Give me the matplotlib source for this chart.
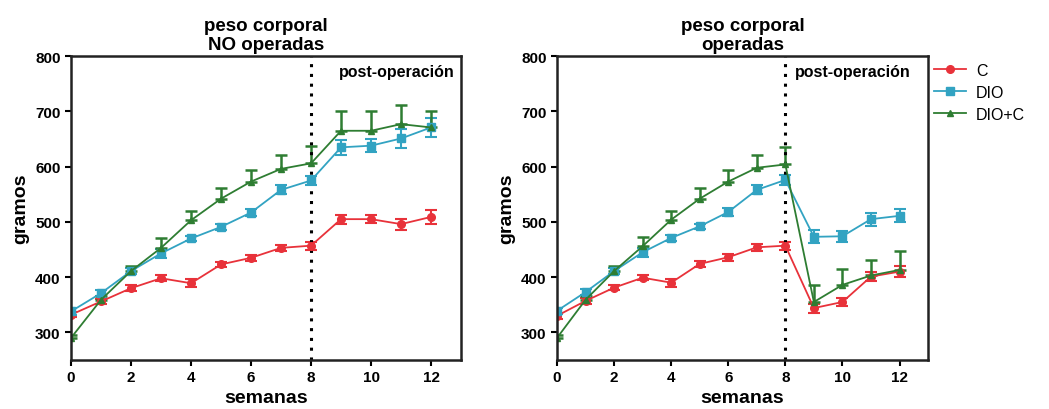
import matplotlib.pyplot as plt
from matplotlib.lines import Line2D

plt.rcParams['font.family'] = ['Liberation Sans', 'DejaVu Sans']

semanas = list(range(13))

# NO operadas
no_c = [332, 356, 380, 398, 389, 423, 435, 453, 457, 505, 505, 496, 509]
no_c_err = [5, 5, 5, 5, 7, 5, 6, 6, 7, 8, 7, 10, 12]
no_dio = [338, 371, 411, 443, 470, 491, 517, 558, 575, 635, 638, 651, 671]
no_dio_err = [6, 5, 5, 8, 5, 5, 7, 8, 9, 14, 12, 17, 18]
no_dioc = [290, 359, 411, 453, 503, 542, 573, 596, 606, 665, 665, 677, 671]
no_dioc_up = [5, 6, 10, 18, 17, 19, 21, 26, 31, 35, 36, 35, 30]

# operadas
op_c = [330, 357, 381, 399, 390, 424, 436, 454, 457, 344, 355, 401, 410]
op_c_err = [5, 5, 5, 5, 7, 5, 6, 6, 7, 8, 7, 8, 10]
op_dio = [339, 373, 411, 445, 471, 492, 518, 558, 576, 473, 474, 505, 511]
op_dio_err = [6, 5, 5, 8, 5, 5, 7, 8, 9, 12, 10, 12, 12]
op_dioc = [290, 359, 411, 456, 504, 542, 573, 598, 604, 355, 386, 403, 413]
op_dioc_up = [5, 6, 10, 16, 16, 19, 21, 24, 32, 30, 28, 28, 34]

col_c = '#e8323a'
col_dio = '#32a3c2'
col_dioc = '#2e7d32'

fig = plt.figure(figsize=(10.49, 4.10), dpi=100)
ax1 = fig.add_axes([0.0677, 0.1195, 0.3718, 0.741])
ax2 = fig.add_axes([0.531, 0.1195, 0.3537, 0.741])


def draw(ax, c, c_err, dio, dio_err, dioc, dioc_up, title, txt_x):
    ax.errorbar(semanas, c, yerr=c_err, color=col_c, marker='o', ms=5.5,
                lw=1.3, capsize=4, elinewidth=1.5, capthick=1.5)
    ax.errorbar(semanas, dio, yerr=dio_err, color=col_dio, marker='s', ms=5.5,
                lw=1.3, capsize=4, elinewidth=1.5, capthick=1.5)
    ax.errorbar(semanas, dioc, yerr=[[0] * len(dioc_up), dioc_up],
                color=col_dioc, marker='^', ms=5, lw=1.3, capsize=4,
                elinewidth=1.8, capthick=1.8)
    ax.axvline(8, color='black', ls=(0, (1, 2.2)), lw=2.2)
    ax.set_xlim(0, 13)
    ax.set_ylim(250, 800)
    ax.set_xticks([0, 2, 4, 6, 8, 10, 12])
    ax.set_yticks([300, 400, 500, 600, 700, 800])
    ax.tick_params(width=1.5, length=4, labelsize=11)
    for lab in ax.get_xticklabels() + ax.get_yticklabels():
        lab.set_fontweight('bold')
    for s in ax.spines.values():
        s.set_linewidth(1.8)
        s.set_color('#222222')
    ax.set_xlabel('semanas', fontsize=14, fontweight='bold', labelpad=3)
    ax.set_ylabel('gramos', fontsize=14, fontweight='bold')
    ax.set_title(title, fontsize=13.5, fontweight='bold', linespacing=1.2,
                 pad=5)
    ax.text(txt_x, 773, 'post-operación', ha='right', va='center',
            fontsize=11.5, fontweight='bold')


draw(ax1, no_c, no_c_err, no_dio, no_dio_err, no_dioc, no_dioc_up,
     'peso corporal\nNO operadas', 12.8)
draw(ax2, op_c, op_c_err, op_dio, op_dio_err, op_dioc, op_dioc_up,
     'peso corporal\noperadas', 12.4)

handles = [
    Line2D([], [], color=col_c, marker='o', ms=5.5, lw=1.3),
    Line2D([], [], color=col_dio, marker='s', ms=5.5, lw=1.3),
    Line2D([], [], color=col_dioc, marker='^', ms=5, lw=1.3),
]
fig.legend(handles, ['C', 'DIO', 'DIO+C'], loc='upper left',
           bbox_to_anchor=(0.877, 0.88), frameon=False, fontsize=11.5,
           handlelength=2.0, handletextpad=0.6, labelspacing=0.45)

fig.savefig('out.png', dpi=100)
